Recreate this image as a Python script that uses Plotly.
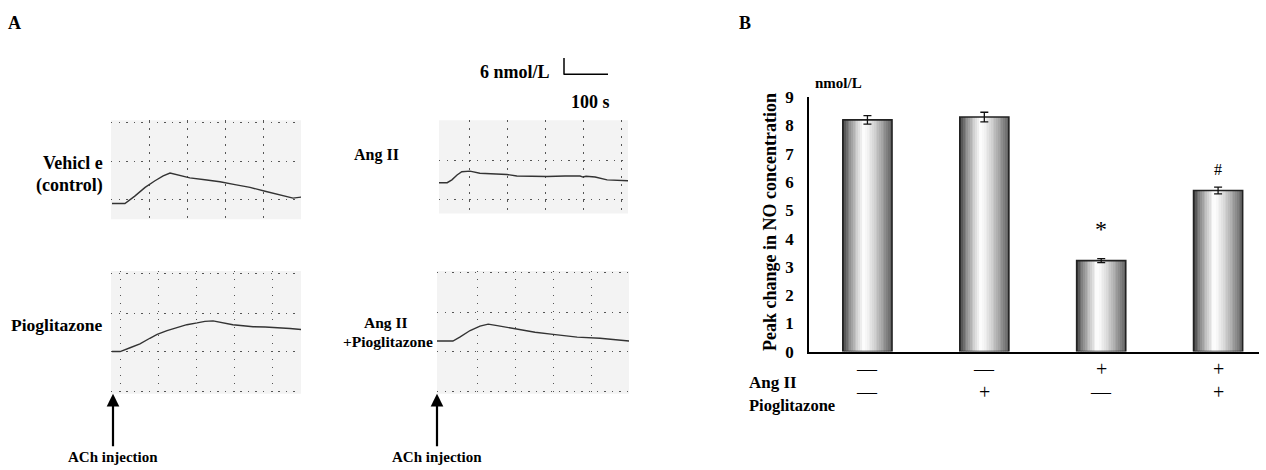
import plotly.graph_objects as go

W, H = 1266, 470
SERIF = "Liberation Serif, Times New Roman, serif"

# ---------------- Panel A: NO recordings (time in s, NO change in nmol/L) ----------------
vehicle_t = [0, 30, 53, 77, 100, 119, 135, 153, 181, 216, 251, 286, 321, 356, 391, 421, 440]
vehicle_no = [0, 0, 2.9, 6.3, 8.9, 10.8, 11.9, 11.1, 10.0, 9.3, 8.5, 7.4, 6.3, 4.8, 3.3, 2.1, 2.5]

angii_t = [0, 19, 30, 42, 53, 72, 95, 130, 158, 181, 212, 251, 293, 328, 335, 342, 363, 391, 440]
angii_no = [0, 0, 1.1, 3.0, 4.3, 4.5, 3.7, 3.4, 3.2, 2.6, 2.4, 2.4, 2.6, 2.6, 2.2, 2.5, 2.2, 1.1, 0.75]

pio_t = [0, 19, 42, 65, 88, 105, 128, 151, 174, 198, 216, 235, 258, 281, 305, 328, 356, 391, 414, 440]
pio_no = [0, 0, 1.5, 3.0, 5.2, 6.7, 8.2, 9.4, 10.5, 11.2, 11.8, 12.0, 11.2, 10.5, 10.1, 9.7, 9.6, 9.4, 9.0, 8.6]

angpio_t = [0, 37, 53, 77, 100, 119, 140, 186, 228, 270, 326, 379, 414, 447]
angpio_no = [0, 0, 1.5, 4.1, 5.8, 6.6, 6.0, 4.5, 3.4, 2.6, 1.5, 1.1, 0.6, 0]

# ---------------- Panel B: peak change in NO ----------------
groups = ["Vehicle", "Pioglitazone", "Ang II", "Ang II+Pioglitazone"]
peak_no = [8.2, 8.3, 3.22, 5.7]
peak_err = [0.15, 0.17, 0.07, 0.12]
angii_sign = ["—", "—", "+", "+"]
pio_sign = ["—", "+", "—", "+"]
sig_marks = ["", "", "*", "#"]
sig_y = [0, 0, 4.33, 6.46]
y_ticks = list(range(10))

# ---------------- layout helpers ----------------
def px(x):
    return x / W

def py(y):
    return 1 - y / H

S_PER_PX = 100 / 43.0   # from 100 s scale bar
N_PER_PX = 6 / 16.0     # from 6 nmol/L scale bar

panels = [
    dict(t=vehicle_t, v=vehicle_no, left=111, right=301, top=116, bottom=219, origin=112, base=202.7,
         cols=[112, 149.8, 187.6, 225.4, 263.2, 301], rows=[118, 159, 199]),
    dict(t=angii_t, v=angii_no, left=439, right=628, top=116, bottom=213, origin=439, base=181,
         cols=[469, 507, 545, 583, 621], rows=[158, 199]),
    dict(t=pio_t, v=pio_no, left=111, right=301, top=273, bottom=401, origin=112, base=357,
         cols=[120, 158, 196, 234, 272], rows=[276, 317, 357, 399]),
    dict(t=angpio_t, v=angpio_no, left=437, right=629, top=273, bottom=401, origin=437, base=346,
         cols=[438, 477, 515, 553, 591, 629], rows=[275, 316, 357, 399]),
]

fig = go.Figure()
layout = dict(width=W, height=H, margin=dict(l=0, r=0, t=0, b=0),
              paper_bgcolor="white", plot_bgcolor="rgba(0,0,0,0)", showlegend=False,
              font=dict(family=SERIF, color="black"))
shapes = []
annotations = []

for i, p in enumerate(panels, start=1):
    xa = "xaxis" if i == 1 else f"xaxis{i}"
    ya = "yaxis" if i == 1 else f"yaxis{i}"
    xr = "x" if i == 1 else f"x{i}"
    yr = "y" if i == 1 else f"y{i}"
    layout[xa] = dict(domain=[px(p["left"]), px(p["right"])], anchor=yr,
                      range=[(p["left"] - p["origin"]) * S_PER_PX, (p["right"] - p["origin"]) * S_PER_PX],
                      tickvals=[(c - p["origin"]) * S_PER_PX for c in p["cols"]],
                      showticklabels=False, ticks="", zeroline=False, showline=False,
                      showgrid=True, gridcolor="#555555", gridwidth=1.3, griddash="1.3px,6.7px")
    layout[ya] = dict(domain=[py(p["bottom"]), py(p["top"])], anchor=xr,
                      range=[(p["base"] - p["bottom"]) * N_PER_PX, (p["base"] - p["top"]) * N_PER_PX],
                      tickvals=[(p["base"] - r) * N_PER_PX for r in p["rows"]],
                      showticklabels=False, ticks="", zeroline=False, showline=False,
                      showgrid=True, gridcolor="#555555", gridwidth=1.3, griddash="1.3px,6.3px")
    shapes.append(dict(type="rect", xref="paper", yref="paper", layer="below",
                       x0=px(p["left"]), x1=px(p["right"]), y0=py(p["bottom"]), y1=py(p["top"]),
                       fillcolor="#f3f3f3", line=dict(width=0)))
    fig.add_trace(go.Scatter(x=p["t"], y=p["v"], mode="lines", xaxis=xr, yaxis=yr,
                             line=dict(color="#333333", width=1.4), hoverinfo="skip"))

# Panel A labels
def txt(x, y, s, size=16, xanchor="center", bold=True, yanchor="middle"):
    annotations.append(dict(xref="paper", yref="paper", x=px(x), y=py(y),
                            text=f"<b>{s}</b>" if bold else s, showarrow=False,
                            xanchor=xanchor, yanchor=yanchor,
                            font=dict(family=SERIF, size=size, color="black")))

txt(14, 15, "A", 18)
txt(745, 15, "B", 18)
txt(105, 161, "Vehicl e", 18, "right")
txt(105, 184, "(control)", 18, "right")
txt(105, 329, "Pioglitazone", 17.5, "right")
txt(401, 152, "Ang II", 16, "right")
txt(386, 327, "Ang II", 15.5)
txt(388, 346, "+Pioglitazone", 15.5)
txt(552, 66, "6 nmol/L", 18, "right")
txt(590, 97, "100 s", 18)

# scale bar
shapes.append(dict(type="line", xref="paper", yref="paper", x0=px(564), x1=px(564), y0=py(51), y1=py(68.5),
                   line=dict(color="black", width=1.5)))
shapes.append(dict(type="line", xref="paper", yref="paper", x0=px(564), x1=px(608), y0=py(68), y1=py(68),
                   line=dict(color="black", width=1.5)))

# ACh injection arrows
for ax_x in (113, 437):
    annotations.append(dict(xref="paper", yref="paper", x=px(ax_x), y=py(401), ax=0, ay=54,
                            text="", showarrow=True, arrowhead=2, arrowsize=1.15, arrowwidth=2.2,
                            arrowcolor="black"))
    txt(ax_x, 467, "ACh injection", 15)

# ---------------- Panel B bars ----------------
xb = list(range(len(groups)))
bar_w = 0.42
n_slices = 28

def shade(u):
    if u < 0.42:
        c = 45 + (255 - 45) * (u / 0.42) ** 0.75
    else:
        c = 255 - (255 - 95) * ((u - 0.42) / 0.58) ** 1.4
    c = int(max(0, min(255, c)))
    return f"rgb({c},{c},{c})"

for k in range(n_slices):
    u = (k + 0.5) / n_slices
    fig.add_trace(go.Bar(x=xb, y=peak_no, xaxis="x5", yaxis="y5",
                         width=bar_w / n_slices * 1.08, offset=-bar_w / 2 + k * bar_w / n_slices,
                         marker=dict(color=shade(u), line=dict(width=0)), hoverinfo="skip"))

fig.add_trace(go.Bar(x=xb, y=peak_no, xaxis="x5", yaxis="y5", width=bar_w, offset=-bar_w / 2,
                     marker=dict(color="rgba(0,0,0,0)", line=dict(color="#222222", width=1.6)),
                     error_y=dict(type="data", array=peak_err, color="#111111", thickness=1.3, width=4)))

layout["barmode"] = "overlay"
layout["xaxis5"] = dict(domain=[px(809), px(1259)], anchor="y5", range=[-0.5, 3.35],
                        showticklabels=False, ticks="", showgrid=False, zeroline=False,
                        showline=True, linecolor="black", linewidth=1.6)
layout["yaxis5"] = dict(domain=[py(357), py(92)], anchor="x5", range=[0, 9], tickvals=y_ticks,
                        ticks="", showgrid=False, zeroline=False, showline=True, linecolor="black",
                        linewidth=1.6, ticklabelstandoff=10,
                        tickfont=dict(family=SERIF, size=17, color="black", weight="bold"))

# y title & unit
annotations.append(dict(xref="paper", yref="paper", x=px(770), y=py(222), text="<b>Peak change in NO concentration</b>",
                        textangle=-90, showarrow=False, font=dict(family=SERIF, size=18, color="black")))
txt(838, 77, "nmol/L", 15)

# significance marks
for i, (m, yv) in enumerate(zip(sig_marks, sig_y)):
    if m:
        annotations.append(dict(xref="x5", yref="y5", x=xb[i], y=yv, text=m, showarrow=False,
                                font=dict(family=SERIF, size=24 if m == "*" else 16, color="black")))

# treatment table
ROW1, ROW2 = 389, 413
txt(747, ROW1, "Ang II", 17, "left")
txt(747, ROW2, "Pioglitazone", 16.5, "left")
for i in xb:
    for row_y, sign in ((ROW1, angii_sign[i]), (ROW2, pio_sign[i])):
        annotations.append(dict(xref="x5", yref="paper", x=xb[i], y=py(row_y), text=sign, showarrow=False,
                                font=dict(family=SERIF, size=20, color="black")))

layout["shapes"] = shapes
layout["annotations"] = annotations
fig.update_layout(**layout)
fig.write_html("out.html", config={"displayModeBar": False},
               post_script="document.body.style.margin='0px';")
